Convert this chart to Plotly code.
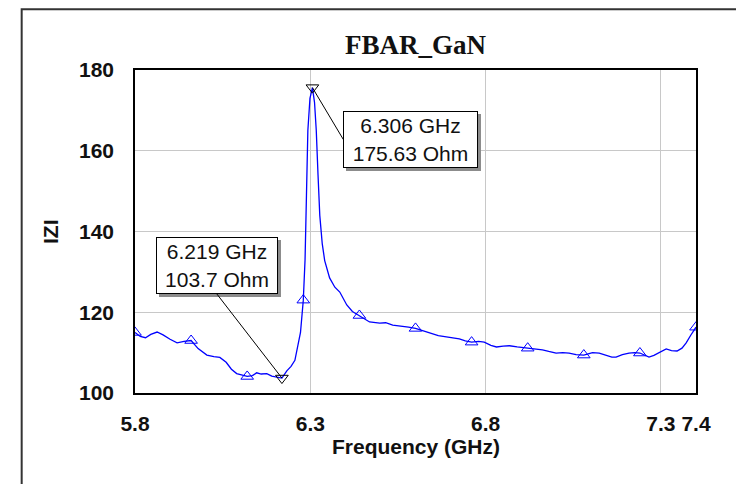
import numpy as np
import plotly.graph_objects as go

# |Z| of the GaN FBAR vs frequency
freq_ghz = [
    5.800, 5.815, 5.830, 5.845, 5.863, 5.880, 5.900, 5.920, 5.940, 5.960,
    5.980, 6.005, 6.025, 6.042, 6.060, 6.075, 6.090, 6.105, 6.120, 6.135,
    6.147, 6.160, 6.176, 6.190, 6.205, 6.219, 6.233, 6.245, 6.256, 6.265,
    6.272, 6.280, 6.285, 6.289, 6.293, 6.299, 6.306, 6.312, 6.317, 6.322,
    6.327, 6.334, 6.341, 6.355, 6.370, 6.384, 6.404, 6.420, 6.440, 6.455,
    6.469, 6.498, 6.515, 6.535, 6.560, 6.580, 6.600, 6.620, 6.640, 6.665,
    6.688, 6.705, 6.725, 6.742, 6.760, 6.780, 6.796, 6.815, 6.831, 6.850,
    6.868, 6.890, 6.920, 6.940, 6.962, 6.980, 7.001, 7.020, 7.038, 7.058,
    7.080, 7.090, 7.105, 7.124, 7.145, 7.160, 7.172, 7.190, 7.209, 7.225,
    7.240, 7.252, 7.266, 7.280, 7.300, 7.315, 7.330, 7.346, 7.360, 7.372,
    7.385, 7.400,
]
z_ohm = [
    115.0, 114.0, 113.7, 114.5, 115.1, 114.4, 113.3, 112.4, 112.8, 113.0,
    111.0, 109.4, 109.0, 108.8, 107.6, 105.9, 104.8, 104.4, 104.1, 104.3,
    105.0, 104.7, 104.8, 104.2, 104.0, 103.7, 105.5, 106.6, 108.1, 111.6,
    115.0, 123.0, 133.0, 149.0, 165.0, 173.0, 175.63, 172.0, 165.0, 154.0,
    144.0, 137.0, 132.8, 128.5, 126.2, 125.0, 121.8, 120.2, 119.2, 118.3,
    117.6, 117.3, 117.4, 116.8, 116.6, 116.3, 116.0, 115.4, 114.9, 114.2,
    113.9, 113.7, 113.4, 112.9, 112.6, 112.8, 112.6, 111.8, 111.4, 111.6,
    111.7, 111.4, 111.1, 111.0, 110.7, 110.3, 109.9, 110.0, 109.9, 109.5,
    109.4, 109.6, 110.0, 109.9, 109.3, 108.9, 108.9, 109.5, 109.9, 110.0,
    109.9, 109.4, 108.9, 109.3, 110.3, 110.9, 110.5, 110.4, 111.1, 112.4,
    114.3, 116.3,
]

# trace symbols placed every 0.16 GHz
symbol_freqs = [5.80, 5.96, 6.12, 6.28, 6.44, 6.60, 6.76, 6.92, 7.08, 7.24, 7.40]

# marker readouts (minimum and resonance peak)
m_freqs = [6.219, 6.306]
m_vals = [103.7, 175.63]

x_tickvals = [5.8, 6.3, 6.8, 7.3, 7.4]
y_tickvals = [100, 120, 140, 160, 180]

f_arr = np.array(freq_ghz)
z_arr = np.array(z_ohm)
sym_idx = [int(np.argmin(np.abs(f_arr - f))) for f in symbol_freqs]

LINE_BLUE = "#0000ff"
TICK_FONT = dict(family="Liberation Sans, Arial, sans-serif", size=21,
                 color="#111111", weight="bold")

fig = go.Figure()
fig.add_trace(go.Scatter(
    x=freq_ghz, y=z_ohm, mode="lines",
    line=dict(color=LINE_BLUE, width=1.3), hoverinfo="skip", showlegend=False,
))
fig.add_trace(go.Scatter(
    x=f_arr[sym_idx], y=z_arr[sym_idx], mode="markers",
    marker=dict(symbol="triangle-up-open", size=11, color=LINE_BLUE,
                line=dict(width=1, color=LINE_BLUE)),
    showlegend=False,
))
fig.add_trace(go.Scatter(
    x=m_freqs, y=m_vals, mode="markers",
    marker=dict(symbol="triangle-down-open", size=11, color="#000000",
                line=dict(width=1, color="#000000")),
    showlegend=False, cliponaxis=False,
))

# callout boxes: (ax, ay, xanchor, yanchor)
callouts = [(-65, -84, "center", "bottom"), (31, 52, "left", "middle")]
box_w = [116, 129]
for (f, z), (ax, ay, xa, ya), w in zip(zip(m_freqs, m_vals), callouts, box_w):
    text = f"{f:.3f} GHz<br>{z:g} Ohm"
    common = dict(x=f, y=z, xref="x", yref="y", ax=ax, ay=ay,
                  xanchor=xa, yanchor=ya, width=w, height=51,
                  borderpad=2, borderwidth=1, align="center",
                  font=dict(family="Liberation Sans, Arial, sans-serif",
                            size=21, color="#111111"),
                  showarrow=True, arrowhead=0, standoff=0)
    # drop shadow box (blank)
    fig.add_annotation(**common, text=" ", bgcolor="#8c8c8c",
                       bordercolor="#8c8c8c", arrowcolor="rgba(0,0,0,0)",
                       xshift=3, yshift=-3)
    fig.add_annotation(**common, text=text, bgcolor="#ffffff",
                       bordercolor="#000000", arrowcolor="#000000",
                       arrowwidth=1)

# axis titles
fig.add_annotation(x=0.5, y=-0.165, xref="paper", yref="paper",
                   text="Frequency (GHz)", showarrow=False,
                   xanchor="center", yanchor="middle", font=TICK_FONT)
fig.add_annotation(x=-0.1506, y=0.5, xref="paper", yref="paper",
                   text="IZI", showarrow=False, textangle=-90,
                   xanchor="center", yanchor="middle", font=TICK_FONT)

# outer frame
fig.add_shape(type="rect", xref="paper", yref="paper",
              x0=-0.202, x1=1.6, y0=-0.6, y1=1.188,
              line=dict(color="#333333", width=2), layer="below")

fig.update_layout(
    width=736, height=484,
    margin=dict(l=135, r=40, t=70, b=91),
    paper_bgcolor="#ffffff", plot_bgcolor="#ffffff",
    title=dict(text="FBAR_GaN", x=0.5, xref="paper", y=1 - 45 / 484,
               yanchor="middle", xanchor="center",
               font=dict(family="Liberation Serif, Times New Roman, serif",
                         size=27, color="#111111", weight="bold")),
    xaxis=dict(range=[5.8, 7.4], tickvals=x_tickvals,
               ticktext=[f"{v:g}" for v in x_tickvals],
               showgrid=True, gridcolor="#c8c8c8", gridwidth=1,
               zeroline=False, showline=True, linecolor="#000000",
               linewidth=1.5, mirror=True, ticks="", tickfont=TICK_FONT,
               ticklabelstandoff=11),
    yaxis=dict(range=[100, 180], tickvals=y_tickvals,
               showgrid=True, gridcolor="#c8c8c8", gridwidth=1,
               zeroline=False, showline=True, linecolor="#000000",
               linewidth=1.5, mirror=True, ticks="", tickfont=TICK_FONT,
               ticklabelstandoff=15),
    showlegend=False,
)

fig.write_html("out.html")
